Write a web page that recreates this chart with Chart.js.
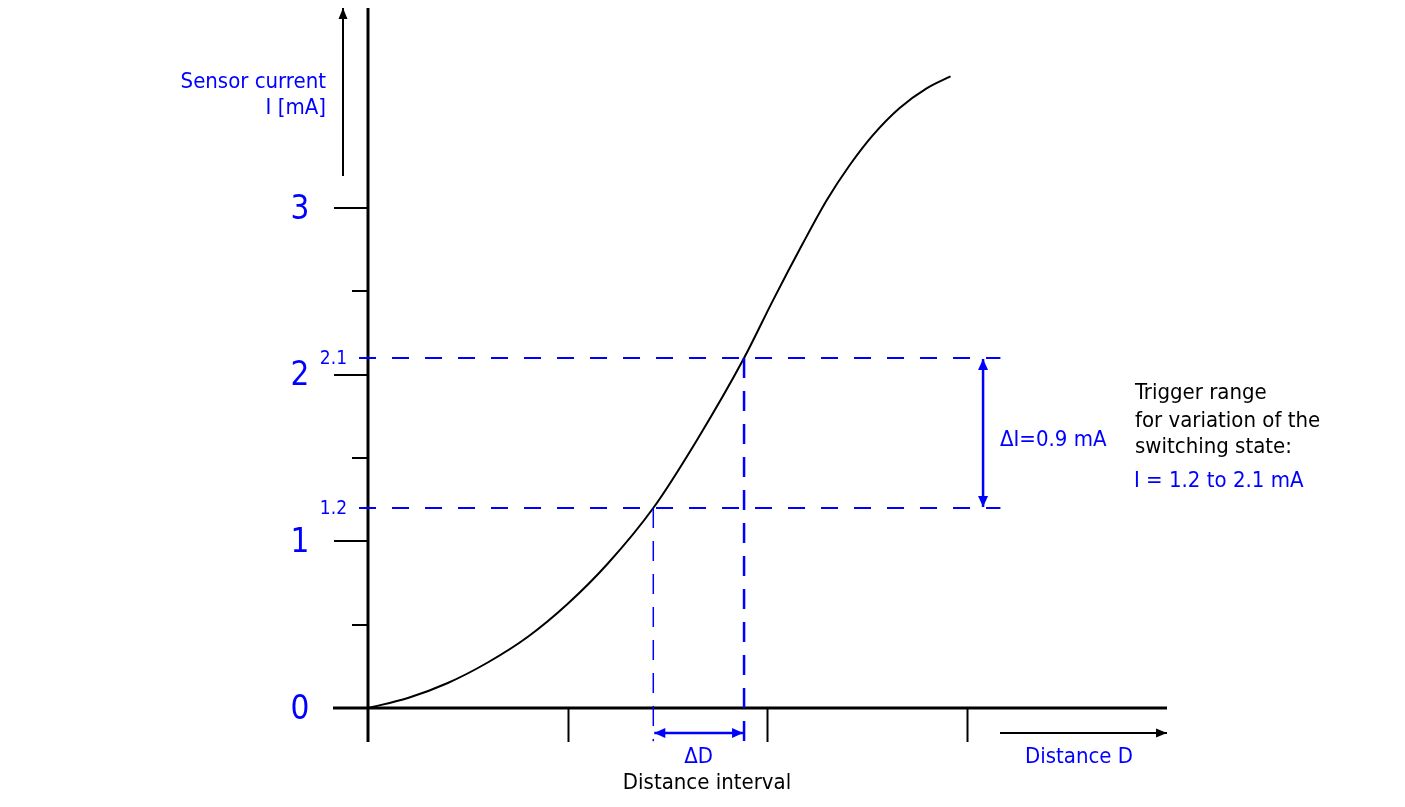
<!DOCTYPE html>
<html>
<head>
<meta charset="utf-8">
<script src="https://cdn.jsdelivr.net/npm/chart.js@4"></script>
<style>
  html, body { margin: 0; padding: 0; background: #fff; }
  canvas { display: block; }
</style>
</head>
<body>
<canvas id="grafico" width="1405" height="807"></canvas>
<script>
// =================== DATOS ===================
// curva corriente del sensor vs distancia
const distancia = [0, 0.20, 0.40, 0.60, 0.80, 1.00, 1.20, 1.43, 1.65, 1.885,
  2.03, 2.18, 2.30, 2.415, 2.53, 2.665, 2.80, 2.92];
const corriente = [0, 0.060, 0.150, 0.273, 0.426, 0.624, 0.864, 1.20, 1.61, 2.10,
  2.446, 2.788, 3.048, 3.258, 3.436, 3.600, 3.718, 3.790];

// rango de disparo
const umbralBajo = 1.2;
const umbralAlto = 2.1;
const distBajo = 1.43;
const distAlto = 1.885;

// ticks
const ticksY = [0, 1, 2, 3];
const ticksYMenores = [0.5, 1.5, 2.5];
const ticksX = [1, 2, 3];
const etiquetasUmbral = ['1.2', '2.1'];

// =================== ESTILO ===================
const AZUL = '#0000ff';
const NEGRO = '#000000';
const FUENTE = '"DejaVu Sans Condensed", "DejaVu Sans", sans-serif';
const TAM = 22;

// extremos de las lineas discontinuas
const xIniDisc = -0.045, xFinDisc = 3.17, yFinDisc = -0.2;
const xFlechaDI = 3.083;

// =================== UTILIDADES ===================
function punta(ctx, x, y, ang, color, largo, ancho) {
  ctx.save();
  ctx.translate(x, y);
  ctx.rotate(ang);
  ctx.fillStyle = color;
  ctx.beginPath();
  ctx.moveTo(0, 0);
  ctx.lineTo(-largo, -ancho);
  ctx.lineTo(-largo, ancho);
  ctx.closePath();
  ctx.fill();
  ctx.restore();
}

function flecha(ctx, x1, y1, x2, y2, color, grosor, doble, largo = 10, ancho = 4.5) {
  ctx.save();
  ctx.strokeStyle = color;
  ctx.lineWidth = grosor;
  ctx.beginPath();
  ctx.moveTo(x1, y1);
  ctx.lineTo(x2, y2);
  ctx.stroke();
  const ang = Math.atan2(y2 - y1, x2 - x1);
  punta(ctx, x2, y2, ang, color, largo, ancho);
  if (doble) punta(ctx, x1, y1, ang + Math.PI, color, largo, ancho);
  ctx.restore();
}

function texto(ctx, t, x, y, color, size, align, base) {
  ctx.fillStyle = color;
  ctx.font = size + 'px ' + FUENTE;
  ctx.textAlign = align || 'left';
  ctx.textBaseline = base || 'alphabetic';
  ctx.fillText(t, x, y);
}

// =================== PLUGIN EJES ===================
const ejesPlugin = {
  id: 'ejes',
  beforeDatasetsDraw(chart) {
    const ctx = chart.ctx;
    const sx = chart.scales.x, sy = chart.scales.y;
    const x0 = sx.getPixelForValue(0);
    const y0 = sy.getPixelForValue(0);
    ctx.save();
    ctx.strokeStyle = NEGRO;
    ctx.lineCap = 'butt';

    // eje Y
    ctx.lineWidth = 3;
    ctx.beginPath();
    ctx.moveTo(x0, chart.chartArea.top);
    ctx.lineTo(x0, y0 + 34);
    ctx.stroke();
    // eje X
    ctx.beginPath();
    ctx.moveTo(x0 - 35, y0);
    ctx.lineTo(chart.chartArea.right + 1, y0);
    ctx.stroke();

    // ticks Y
    ctx.lineWidth = 2;
    ticksY.forEach(v => {
      const y = Math.round(sy.getPixelForValue(v));
      ctx.beginPath();
      ctx.moveTo(x0 - 34, y);
      ctx.lineTo(x0, y);
      ctx.stroke();
    });
    ticksYMenores.forEach(v => {
      const y = Math.round(sy.getPixelForValue(v));
      ctx.beginPath();
      ctx.moveTo(x0 - 16, y);
      ctx.lineTo(x0, y);
      ctx.stroke();
    });
    // ticks X
    ticksX.forEach(v => {
      const x = Math.round(sx.getPixelForValue(v)) + 0.5;
      ctx.beginPath();
      ctx.moveTo(x, y0);
      ctx.lineTo(x, y0 + 34);
      ctx.stroke();
    });
    ctx.restore();
  },
  afterDatasetsDraw(chart) {
    const ctx = chart.ctx;
    const sx = chart.scales.x, sy = chart.scales.y;
    const x0 = sx.getPixelForValue(0);
    const y0 = sy.getPixelForValue(0);
    ctx.save();

    // etiquetas eje Y
    ticksY.forEach(v => {
      texto(ctx, String(v), x0 - 68, sy.getPixelForValue(v) + 2, AZUL, 33, 'center', 'middle');
    });
    [umbralBajo, umbralAlto].forEach((v, i) => {
      texto(ctx, etiquetasUmbral[i], x0 - 21, sy.getPixelForValue(v) + 1, AZUL, 19, 'right', 'middle');
    });

    // flecha y titulo eje Y
    flecha(ctx, x0 - 25, 176, x0 - 25, 8, NEGRO, 2, false, 11, 4.5);
    texto(ctx, 'Sensor current', x0 - 42, 88, AZUL, TAM, 'right');
    texto(ctx, 'I [mA]', x0 - 42, 114, AZUL, TAM, 'right');

    // flecha y titulo eje X
    flecha(ctx, 1000, y0 + 25, chart.chartArea.right + 1, y0 + 25, NEGRO, 2, false, 11, 4.5);
    texto(ctx, 'Distance D', 1079, 763, AZUL, TAM, 'center');

    // intervalo de distancia
    const xb = sx.getPixelForValue(distBajo), xa = sx.getPixelForValue(distAlto);
    flecha(ctx, xb + 1, y0 + 25, xa - 1, y0 + 25, AZUL, 2.5, true, 11, 5);
    texto(ctx, '\u0394D', (xb + xa) / 2, 763, AZUL, TAM, 'center');
    texto(ctx, 'Distance interval', 707, 789, NEGRO, TAM, 'center');

    // intervalo de corriente
    const xd = sx.getPixelForValue(xFlechaDI);
    flecha(ctx, xd, sy.getPixelForValue(umbralBajo) - 1, xd, sy.getPixelForValue(umbralAlto) + 1, AZUL, 2.5, true, 11, 5);
    texto(ctx, '\u0394I=0.9 mA', 1000, 446, AZUL, TAM, 'left');

    // texto explicativo
    texto(ctx, 'Trigger range', 1135, 399, NEGRO, TAM, 'left');
    texto(ctx, 'for variation of the', 1135, 427, NEGRO, TAM, 'left');
    texto(ctx, 'switching state:', 1135, 453, NEGRO, TAM, 'left');
    texto(ctx, 'I = 1.2 to 2.1 mA', 1134, 487, AZUL, TAM, 'left');

    ctx.restore();
  }
};

// =================== GRAFICO ===================
const puntosCurva = distancia.map((d, i) => ({ x: d, y: corriente[i] }));

function lineaDisc(puntos, grosor, dash) {
  return {
    data: puntos,
    borderColor: AZUL,
    borderWidth: grosor,
    borderDash: dash,
    pointRadius: 0,
    fill: false,
    clip: false,
    tension: 0
  };
}

new Chart(document.getElementById('grafico'), {
  type: 'line',
  data: {
    datasets: [
      lineaDisc([{ x: xIniDisc, y: umbralAlto }, { x: xFinDisc, y: umbralAlto }], 2, [17, 16]),
      lineaDisc([{ x: xIniDisc, y: umbralBajo }, { x: xFinDisc, y: umbralBajo }], 2, [17, 16]),
      lineaDisc([{ x: distBajo, y: umbralBajo }, { x: distBajo, y: yFinDisc }], 1.5, [20, 13]),
      lineaDisc([{ x: distAlto, y: umbralAlto }, { x: distAlto, y: yFinDisc }], 2.5, [20, 13]),
      {
        data: puntosCurva,
        borderColor: NEGRO,
        borderWidth: 2,
        pointRadius: 0,
        fill: false,
        clip: false,
        tension: 0.4,
        cubicInterpolationMode: 'monotone'
      }
    ]
  },
  options: {
    responsive: false,
    animation: false,
    events: [],
    layout: { padding: { left: 368, right: 239, top: 8, bottom: 99 } },
    plugins: { legend: { display: false }, tooltip: { enabled: false } },
    scales: {
      x: { type: 'linear', min: 0, max: 4, display: false },
      y: { type: 'linear', min: 0, max: 4.2, display: false }
    }
  },
  plugins: [ejesPlugin]
});
</script>
</body>
</html>
